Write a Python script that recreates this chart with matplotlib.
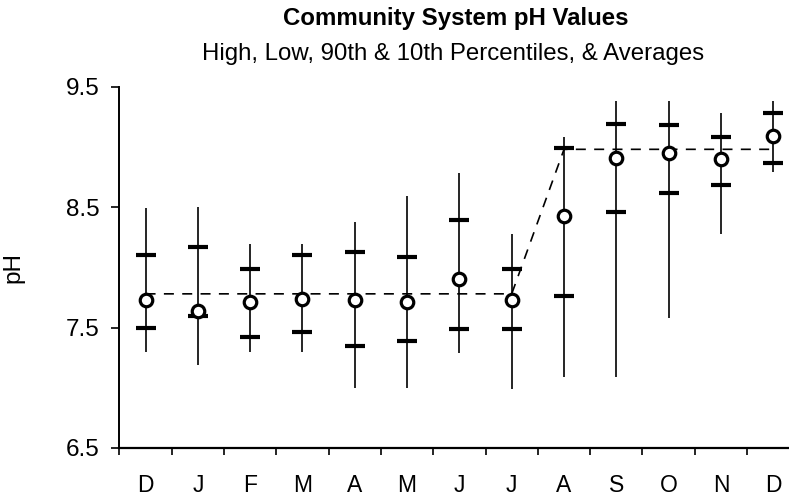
import matplotlib
matplotlib.use('Agg')
import matplotlib.pyplot as plt

# monthly pH stats
months = ['D', 'J', 'F', 'M', 'A', 'M', 'J', 'J', 'A', 'S', 'O', 'N', 'D']
high = [8.49, 8.50, 8.19, 8.19, 8.38, 8.59, 8.78, 8.28, 9.08, 9.38, 9.38, 9.28, 9.38]
p90 = [8.10, 8.17, 7.99, 8.10, 8.13, 8.09, 8.39, 7.99, 8.99, 9.19, 9.18, 9.08, 9.28]
avg = [7.73, 7.64, 7.71, 7.74, 7.73, 7.71, 7.90, 7.73, 8.43, 8.91, 8.95, 8.90, 9.09]
p10 = [7.50, 7.60, 7.42, 7.46, 7.35, 7.39, 7.49, 7.49, 7.76, 8.46, 8.62, 8.68, 8.87]
low = [7.30, 7.19, 7.30, 7.30, 7.00, 7.00, 7.29, 6.99, 7.09, 7.09, 7.58, 8.28, 8.79]

# dashed reference line
ref_x = [0, 7, 8, 12]
ref_y = [7.78, 7.78, 8.98, 8.98]

plt.rcParams['font.family'] = ['Liberation Sans', 'DejaVu Sans']

fig = plt.figure(figsize=(7.89, 4.97), dpi=100)
ax = fig.add_axes([119.4 / 789, 49 / 497, 680 / 789, 361.3 / 497])

x = list(range(len(months)))

ax.plot(ref_x, ref_y, color='black', lw=1.2, ls=(0, (6, 5)), zorder=1)
ax.vlines(x, low, high, color='black', lw=1.2, zorder=2)
ax.plot(x, p90, ls='none', marker='_', ms=14, mew=3, color='black', zorder=3)
ax.plot(x, p10, ls='none', marker='_', ms=14, mew=3, color='black', zorder=3)
ax.plot(x, avg, ls='none', marker='o', ms=9, mew=2.3, mfc='white', mec='black', zorder=4)

ax.set_xlim(-0.5, 12.5)
ax.set_ylim(6.5, 9.5)
ax.set_yticks([6.5, 7.5, 8.5, 9.5])
ax.set_yticklabels(['6.5', '7.5', '8.5', '9.5'])
ax.set_xticks([i - 0.5 for i in range(len(months) + 1)])
ax.set_xticklabels([])
ax.set_xticks(x, minor=True)
ax.set_xticklabels(months, minor=True)
ax.tick_params(axis='x', which='minor', length=0, pad=19, labelsize=16.5)
ax.tick_params(axis='x', which='major', length=5, width=1.2, direction='out')
ax.tick_params(axis='y', length=6, width=1.2, direction='out', labelsize=17.5, pad=8)

ax.spines['top'].set_visible(False)
ax.spines['right'].set_visible(False)
ax.spines['left'].set_linewidth(1.4)
ax.spines['bottom'].set_linewidth(1.6)

ax.set_ylabel('pH', fontsize=17.5)
ax.yaxis.set_label_coords((24 - 119.4) / 680, 0.5)

fig.text(456 / 789, 1 - 25 / 497, 'Community System pH Values', ha='center', va='baseline',
         fontsize=17.3, fontweight='bold')
fig.text(453 / 789, 1 - 60 / 497, 'High, Low, 90th & 10th Percentiles, & Averages', ha='center',
         va='baseline', fontsize=17.3)

fig.savefig('out.png', dpi=100)
